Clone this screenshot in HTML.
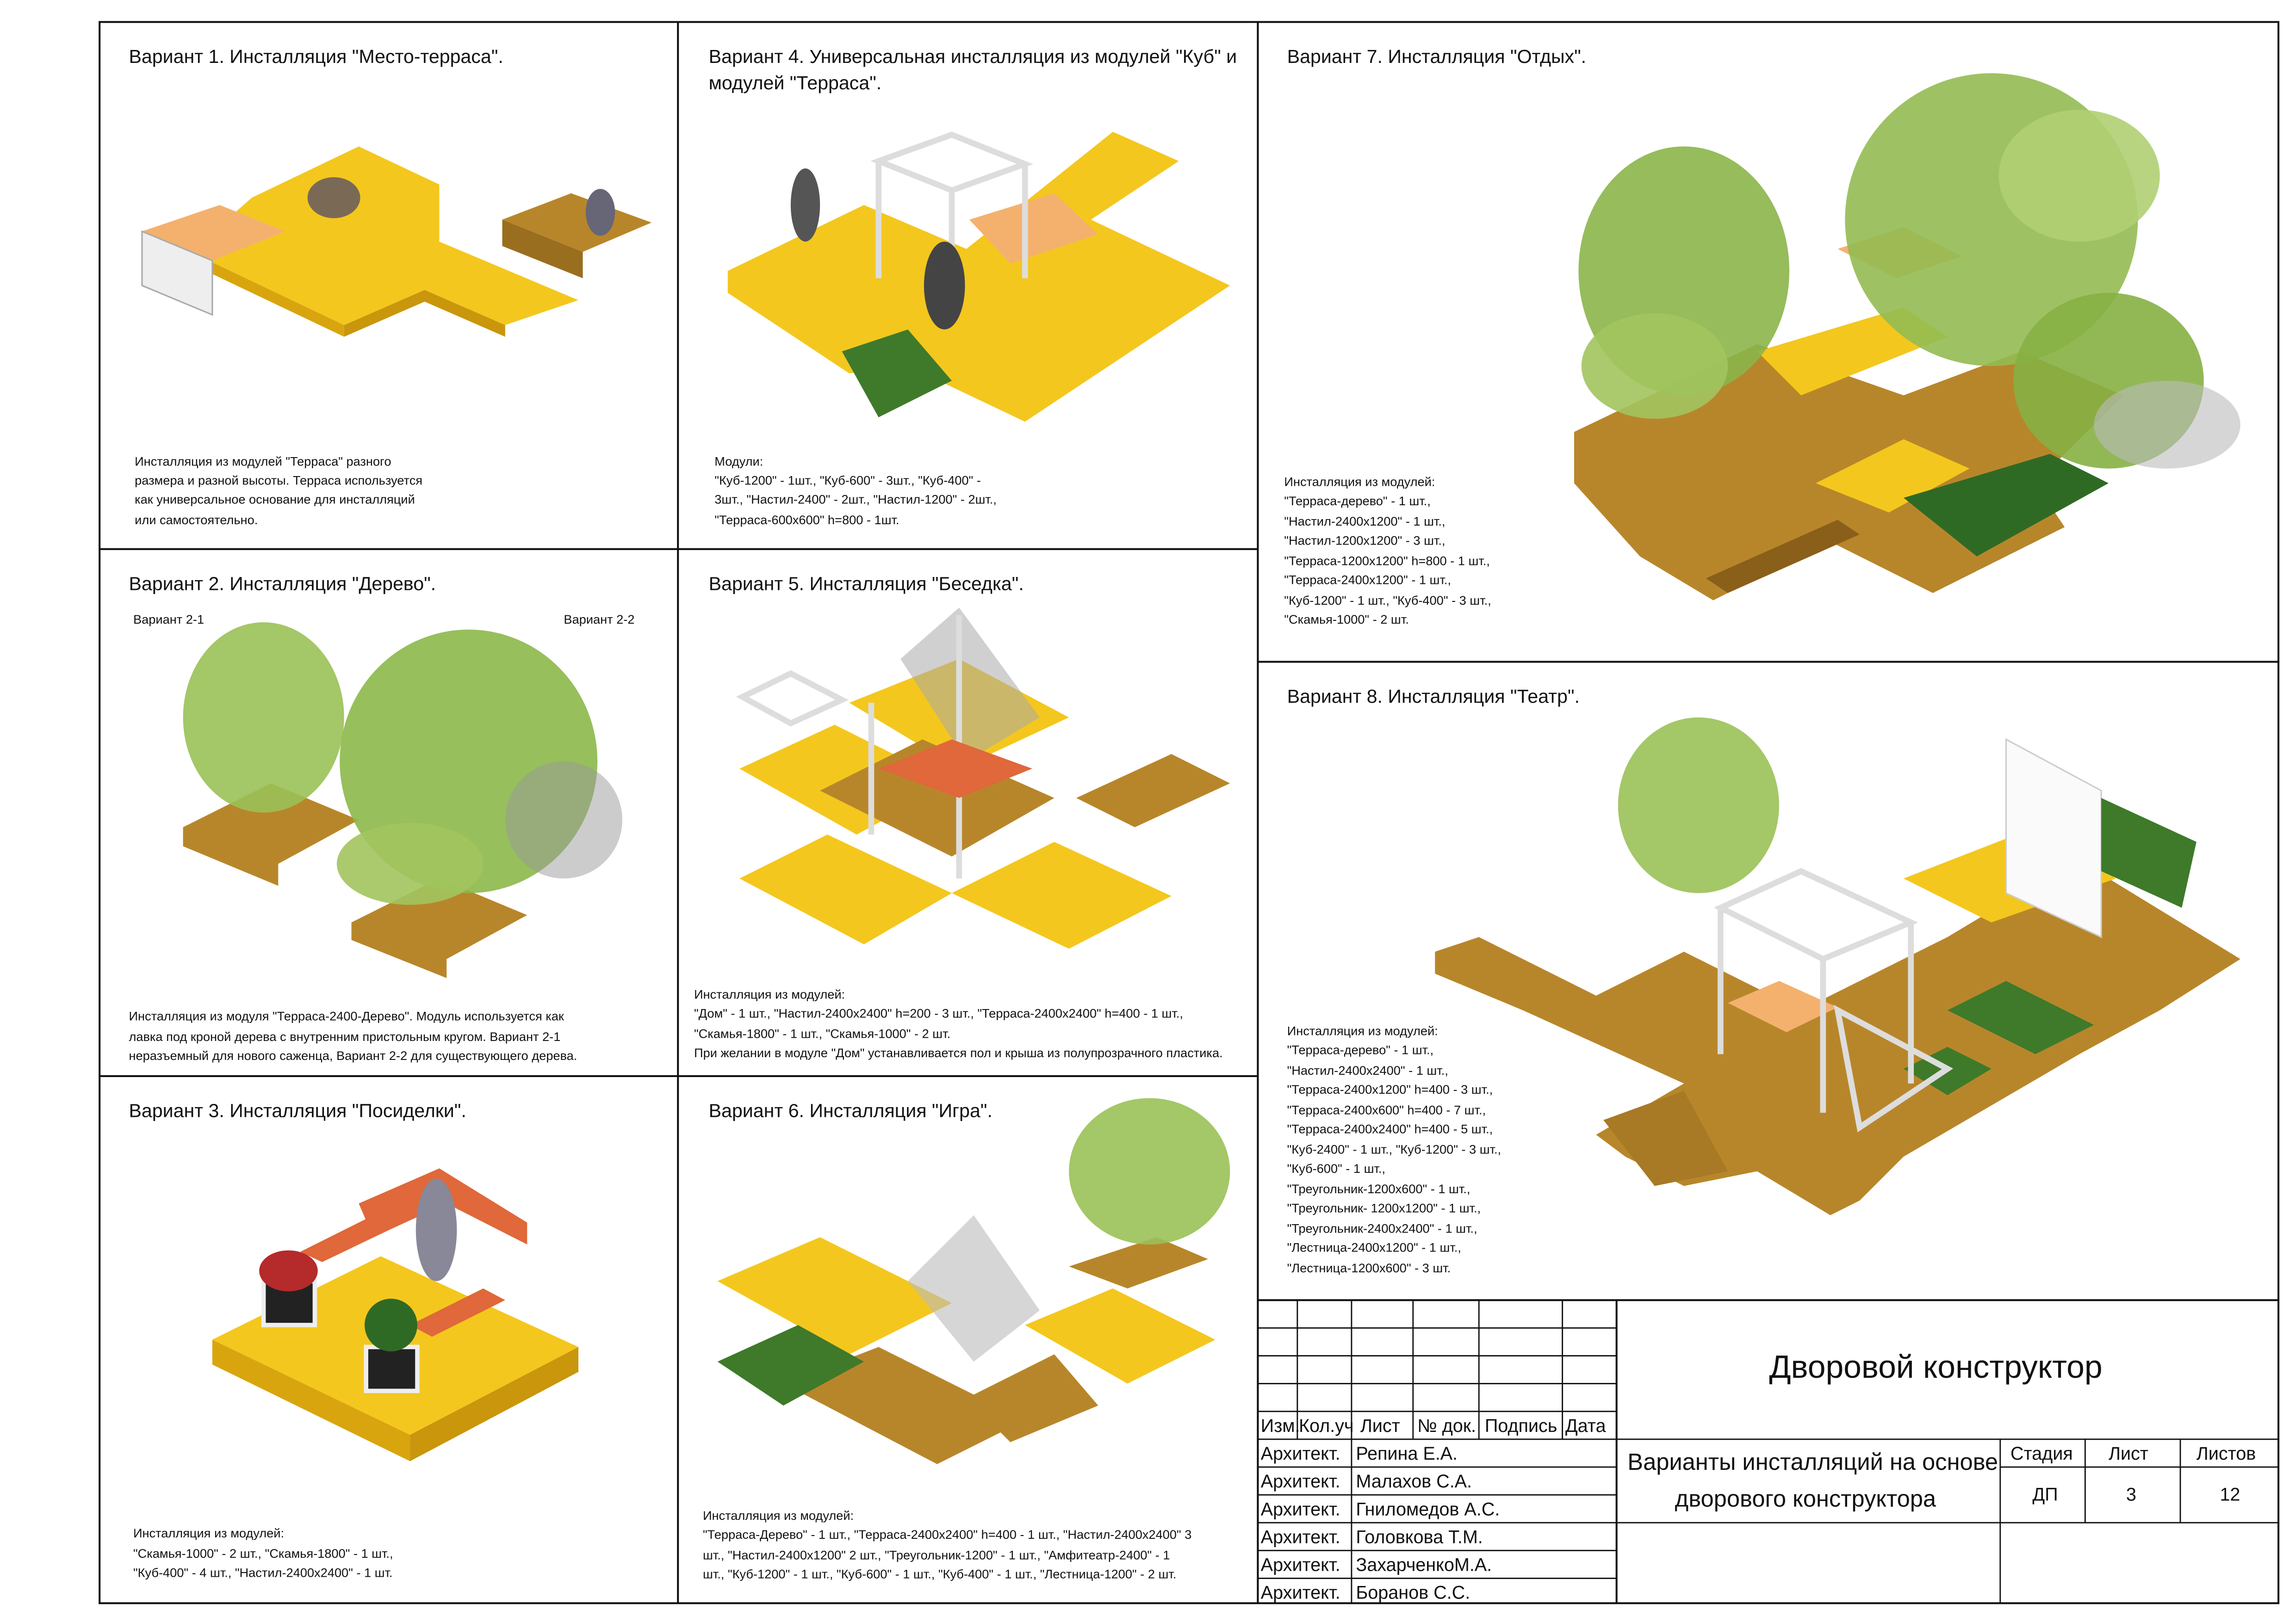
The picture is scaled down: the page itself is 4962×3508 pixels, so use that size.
<!DOCTYPE html>
<html><head><meta charset="utf-8"><style>
html,body{margin:0;padding:0;background:#fff}
svg{display:block}
text{font-family:"Liberation Sans Narrow","Liberation Sans",sans-serif;fill:#111}
.t{font-size:13px}
.s{font-size:8.6px}
.b{font-size:12.5px}
</style></head><body>
<svg width="4962" height="3508" viewBox="0 0 1568 1108.5" xmlns="http://www.w3.org/2000/svg">
<rect width="1568" height="1109" fill="#fff"/>
<g fill="none" stroke="#111" stroke-width="1.3">
<rect x="68" y="15" width="1488" height="1080"/>
<line x1="463" y1="15" x2="463" y2="1095"/>
<line x1="859" y1="15" x2="859" y2="1095"/>
<line x1="68" y1="375" x2="859" y2="375"/>
<line x1="68" y1="735" x2="859" y2="735"/>
<line x1="859" y1="452" x2="1556" y2="452"/>
<line x1="859" y1="888" x2="1556" y2="888"/>
<line x1="1104" y1="888" x2="1104" y2="1095"/>
</g>
<g stroke="#111" stroke-width="0.9" fill="none">
<line x1="886" y1="888" x2="886" y2="983"/><line x1="923" y1="888" x2="923" y2="1095"/>
<line x1="965" y1="888" x2="965" y2="983"/><line x1="1010" y1="888" x2="1010" y2="983"/>
<line x1="1067" y1="888" x2="1067" y2="983"/>
<line x1="859" y1="907" x2="1104" y2="907"/><line x1="859" y1="926" x2="1104" y2="926"/>
<line x1="859" y1="945" x2="1104" y2="945"/><line x1="859" y1="964" x2="1104" y2="964"/>
<line x1="859" y1="983" x2="1556" y2="983"/><line x1="859" y1="1002" x2="1104" y2="1002"/>
<line x1="859" y1="1021" x2="1104" y2="1021"/><line x1="859" y1="1040" x2="1556" y2="1040"/>
<line x1="859" y1="1059" x2="1104" y2="1059"/><line x1="859" y1="1078" x2="1104" y2="1078"/>
<line x1="1366" y1="983" x2="1366" y2="1095"/><line x1="1424" y1="983" x2="1424" y2="1040"/>
<line x1="1489" y1="983" x2="1489" y2="1040"/><line x1="1366" y1="1002" x2="1556" y2="1002"/>
</g>
<g class="b">
<text x="861" y="978">Изм.</text><text x="887" y="978">Кол.уч</text><text x="929" y="978">Лист</text><text x="968" y="978">№ док.</text><text x="1014" y="978">Подпись</text><text x="1069" y="978">Дата</text>
<text x="861" y="997">Архитект.</text><text x="926" y="997">Репина Е.А.</text>
<text x="861" y="1016">Архитект.</text><text x="926" y="1016">Малахов С.А.</text>
<text x="861" y="1035">Архитект.</text><text x="926" y="1035">Гниломедов А.С.</text>
<text x="861" y="1054">Архитект.</text><text x="926" y="1054">Головкова Т.М.</text>
<text x="861" y="1073">Архитект.</text><text x="926" y="1073">ЗахарченкоМ.А.</text>
<text x="861" y="1092">Архитект.</text><text x="926" y="1092">Боранов С.С.</text>
<text x="1373" y="997">Стадия</text><text x="1440" y="997">Лист</text><text x="1500" y="997">Листов</text>
<text x="1388" y="1025">ДП</text><text x="1452" y="1025">3</text><text x="1516" y="1025">12</text>
</g>
<text x="1322" y="941" text-anchor="middle" style="font-size:22px">Дворовой конструктор</text>
<text x="1238" y="1004" text-anchor="middle" style="font-size:16px">Варианты инсталляций на основе</text>
<text x="1233" y="1029" text-anchor="middle" style="font-size:16px">дворового конструктора</text>

<g class="t">
<text x="88" y="43">Вариант 1. Инсталляция "Место-терраса".</text>
<text x="484" y="43">Вариант 4. Универсальная инсталляция из модулей "Куб" и</text>
<text x="484" y="61">модулей "Терраса".</text>
<text x="879" y="43">Вариант 7. Инсталляция "Отдых".</text>
<text x="88" y="403">Вариант 2. Инсталляция "Дерево".</text>
<text x="484" y="403">Вариант 5. Инсталляция "Беседка".</text>
<text x="879" y="480">Вариант 8. Инсталляция "Театр".</text>
<text x="88" y="763">Вариант 3. Инсталляция "Посиделки".</text>
<text x="484" y="763">Вариант 6. Инсталляция "Игра".</text>
</g>
<g class="s">
<text x="92" y="318">Инсталляция из модулей "Терраса" разного</text>
<text x="92" y="331">размера и разной высоты. Терраса используется</text>
<text x="92" y="344">как универсальное основание для инсталляций</text>
<text x="92" y="358">или самостоятельно.</text>
<text x="488" y="318">Модули:</text>
<text x="488" y="331">"Куб-1200" - 1шт., "Куб-600" - 3шт., "Куб-400" -</text>
<text x="488" y="344">3шт., "Настил-2400" - 2шт., "Настил-1200" - 2шт.,</text>
<text x="488" y="358">"Терраса-600х600" h=800 - 1шт.</text>
<text x="877" y="332">Инсталляция из модулей:</text>
<text x="877" y="345">"Терраса-дерево" - 1 шт.,</text>
<text x="877" y="359">"Настил-2400х1200" - 1 шт.,</text>
<text x="877" y="372">"Настил-1200х1200" - 3 шт.,</text>
<text x="877" y="386">"Терраса-1200х1200" h=800 - 1 шт.,</text>
<text x="877" y="399">"Терраса-2400х1200" - 1 шт.,</text>
<text x="877" y="413">"Куб-1200" - 1 шт., "Куб-400" - 3 шт.,</text>
<text x="877" y="426">"Скамья-1000" - 2 шт.</text>
<text x="91" y="426">Вариант 2-1</text><text x="385" y="426">Вариант 2-2</text>
<text x="88" y="697">Инсталляция из модуля "Терраса-2400-Дерево". Модуль используется как</text>
<text x="88" y="711">лавка под кроной дерева с внутренним пристольным кругом. Вариант 2-1</text>
<text x="88" y="724">неразъемный для нового саженца, Вариант 2-2 для существующего дерева.</text>
<text x="474" y="682">Инсталляция из модулей:</text>
<text x="474" y="695">"Дом" - 1 шт., "Настил-2400х2400" h=200 - 3 шт., "Терраса-2400х2400" h=400 - 1 шт.,</text>
<text x="474" y="709">"Скамья-1800" - 1 шт., "Скамья-1000" - 2 шт.</text>
<text x="474" y="722">При желании в модуле "Дом" устанавливается пол и крыша из полупрозрачного пластика.</text>
<text x="879" y="707">Инсталляция из модулей:</text>
<text x="879" y="720">"Терраса-дерево" - 1 шт.,</text>
<text x="879" y="734">"Настил-2400х2400" - 1 шт.,</text>
<text x="879" y="747">"Терраса-2400х1200" h=400 - 3 шт.,</text>
<text x="879" y="761">"Терраса-2400х600" h=400 - 7 шт.,</text>
<text x="879" y="774">"Терраса-2400х2400" h=400 - 5 шт.,</text>
<text x="879" y="788">"Куб-2400" - 1 шт., "Куб-1200" - 3 шт.,</text>
<text x="879" y="801">"Куб-600" - 1 шт.,</text>
<text x="879" y="815">"Треугольник-1200х600" - 1 шт.,</text>
<text x="879" y="828">"Треугольник- 1200х1200" - 1 шт.,</text>
<text x="879" y="842">"Треугольник-2400х2400" - 1 шт.,</text>
<text x="879" y="855">"Лестница-2400х1200" - 1 шт.,</text>
<text x="879" y="869">"Лестница-1200х600" - 3 шт.</text>
<text x="91" y="1050">Инсталляция из модулей:</text>
<text x="91" y="1064">"Скамья-1000" - 2 шт., "Скамья-1800" - 1 шт.,</text>
<text x="91" y="1077">"Куб-400" - 4 шт., "Настил-2400х2400" - 1 шт.</text>
<text x="480" y="1038">Инсталляция из модулей:</text>
<text x="480" y="1051">"Терраса-Дерево" - 1 шт., "Терраса-2400х2400" h=400 - 1 шт., "Настил-2400х2400" 3</text>
<text x="480" y="1065">шт., "Настил-2400х1200" 2 шт., "Треугольник-1200" - 1 шт., "Амфитеатр-2400" - 1</text>
<text x="480" y="1078">шт., "Куб-1200" - 1 шт., "Куб-600" - 1 шт., "Куб-400" - 1 шт., "Лестница-1200" - 2 шт.</text>
</g>

<!-- Panel 1 -->
<polygon points="172,135 245,100 300,126 300,165 395,205 345,222 290,198 235,222 130,172" fill="#F4C71E"/>
<polygon points="130,172 235,222 235,230 130,180" fill="#d9a50f"/>
<polygon points="235,222 290,198 345,222 345,230 290,206 235,230" fill="#c9960c"/>
<polygon points="97,158 150,140 195,158 145,178" fill="#F4B16E"/>
<polygon points="97,158 145,178 145,215 97,195" fill="#eee" stroke="#aaa" stroke-width="1"/>
<polygon points="343,150 390,132 445,152 398,172" fill="#B8862A"/>
<polygon points="343,150 398,172 398,190 343,168" fill="#9a6e1f"/>
<ellipse cx="228" cy="135" rx="18" ry="14" fill="#7a6a55"/>
<ellipse cx="410" cy="145" rx="10" ry="16" fill="#667"/>

<!-- Panel 4 -->
<polygon points="497,185 590,140 660,170 760,90 805,110 745,150 840,195 700,288 620,250 580,255 497,200" fill="#F4C71E"/>
<polygon points="575,240 620,225 650,260 600,285" fill="#3e7a2a"/>
<polygon points="662,150 720,132 750,160 690,180" fill="#F4B16E"/>
<g stroke="#ddd" stroke-width="4" fill="none"><polygon points="600,110 650,92 700,112 650,130"/><line x1="600" y1="110" x2="600" y2="190"/><line x1="650" y1="130" x2="650" y2="215"/><line x1="700" y1="112" x2="700" y2="190"/></g>
<ellipse cx="550" cy="140" rx="10" ry="25" fill="#555"/>
<ellipse cx="645" cy="195" rx="14" ry="30" fill="#444"/>

<!-- Panel 7 -->
<polygon points="1075,295 1200,235 1300,270 1380,240 1450,270 1390,330 1410,360 1320,405 1250,370 1170,410 1120,380 1075,330" fill="#B8862A"/>
<polygon points="1200,240 1300,210 1330,230 1230,270" fill="#F4C71E"/>
<polygon points="1240,330 1300,300 1345,320 1290,350" fill="#F4C71E"/>
<polygon points="1300,340 1400,310 1440,330 1350,380" fill="#2f6a25"/>
<polygon points="1165,395 1255,355 1270,365 1180,405" fill="#8a5f1a"/>
<polygon points="1255,170 1300,155 1340,175 1295,190" fill="#F4B16E"/>
<ellipse cx="1150" cy="185" rx="72" ry="85" fill="#8bb54a" opacity="0.9"/>
<ellipse cx="1130" cy="250" rx="50" ry="36" fill="#a2c45e" opacity="0.9"/>
<ellipse cx="1360" cy="150" rx="100" ry="100" fill="#93bb52" opacity="0.9"/>
<ellipse cx="1440" cy="260" rx="65" ry="60" fill="#86b044" opacity="0.9"/>
<ellipse cx="1420" cy="120" rx="55" ry="45" fill="#b0cf72" opacity="0.9"/>
<ellipse cx="1480" cy="290" rx="50" ry="30" fill="#bbb" opacity="0.6"/>

<!-- Panel 2 -->
<polygon points="125,565 185,535 245,560 190,590 190,605 125,578" fill="#B8862A"/>
<polygon points="240,630 300,600 360,625 305,655 305,668 240,642" fill="#B8862A"/>
<ellipse cx="180" cy="490" rx="55" ry="65" fill="#9ac156" opacity="0.9"/>
<ellipse cx="320" cy="520" rx="88" ry="90" fill="#8cb84a" opacity="0.9"/>
<ellipse cx="280" cy="590" rx="50" ry="28" fill="#a2c45e" opacity="0.9"/>
<ellipse cx="385" cy="560" rx="40" ry="40" fill="#999" opacity="0.5"/>

<!-- Panel 5 -->
<polygon points="505,525 570,495 650,535 585,570" fill="#F4C71E"/>
<polygon points="580,480 655,450 730,490 655,525" fill="#F4C71E"/>
<polygon points="505,600 565,570 650,610 590,645" fill="#F4C71E"/>
<polygon points="650,610 720,575 800,612 730,648" fill="#F4C71E"/>
<polygon points="560,540 630,505 720,545 650,585" fill="#B8862A"/>
<polygon points="735,545 800,515 840,535 775,565" fill="#B8862A"/>
<polygon points="615,450 655,415 710,490 660,520" fill="#aaa" opacity="0.55"/>
<g stroke="#ddd" stroke-width="4" fill="none"><polygon points="507,476 540,460 575,478 540,494"/><line x1="655" y1="420" x2="655" y2="600"/><line x1="595" y1="480" x2="595" y2="570"/></g>
<polygon points="600,525 650,505 705,525 655,545" fill="#E0683A"/>

<!-- Panel 3 -->
<polygon points="145,915 260,858 395,920 280,980" fill="#F4C71E"/>
<polygon points="145,915 280,980 280,998 145,932" fill="#d9a50f"/>
<polygon points="280,980 395,920 395,937 280,998" fill="#c9960c"/>
<polygon points="205,855 255,830 270,838 220,862" fill="#E0683A"/>
<polygon points="245,822 300,798 360,835 360,850 305,822 255,845" fill="#E0683A"/>
<polygon points="280,905 330,880 345,888 295,913" fill="#E0683A"/>
<rect x="180" y="875" width="35" height="30" fill="#222" stroke="#eee" stroke-width="3"/>
<ellipse cx="197" cy="868" rx="20" ry="14" fill="#b52a2a"/>
<rect x="250" y="920" width="35" height="30" fill="#222" stroke="#eee" stroke-width="3"/>
<ellipse cx="267" cy="905" rx="18" ry="18" fill="#2f6a25"/>
<ellipse cx="298" cy="840" rx="14" ry="35" fill="#889"/>

<!-- Panel 6 -->
<polygon points="490,875 560,845 650,890 580,925" fill="#F4C71E"/>
<polygon points="535,945 600,920 700,970 640,1000" fill="#B8862A"/>
<polygon points="700,905 760,880 830,915 770,945" fill="#F4C71E"/>
<polygon points="730,865 790,845 825,860 770,880" fill="#B8862A"/>
<polygon points="490,930 545,905 590,930 535,960" fill="#3e7a2a"/>
<ellipse cx="785" cy="800" rx="55" ry="50" fill="#9ac156" opacity="0.9"/>
<polygon points="620,875 665,830 710,895 665,930" fill="#bbb" opacity="0.6"/>
<polygon points="660,955 720,925 750,960 690,985" fill="#B8862A"/>

<!-- Panel 8 -->
<polygon points="980,650 1010,640 1090,680 1150,650 1230,690 1330,640 1380,610 1440,600 1530,655 1475,690 1420,720 1300,790 1270,820 1250,830 1200,800 1150,810 1110,790 1090,775 1150,740 1040,690 980,665" fill="#B8862A"/>
<polygon points="1300,600 1390,565 1445,600 1360,630" fill="#F4C71E"/>
<polygon points="1370,505 1435,540 1435,640 1370,610" fill="#fafafa" stroke="#ccc"/>
<polygon points="1435,545 1500,575 1490,620 1435,595" fill="#3e7a2a"/>
<polygon points="1330,690 1370,670 1430,700 1390,720" fill="#3e7a2a"/>
<polygon points="1300,730 1330,715 1360,730 1330,748" fill="#3e7a2a"/>
<ellipse cx="1160" cy="550" rx="55" ry="60" fill="#9ac156" opacity="0.9"/>
<polygon points="1180,685 1215,670 1255,688 1220,705" fill="#F4B16E"/>
<g stroke="#ddd" stroke-width="4" fill="none"><polygon points="1175,620 1230,595 1305,630 1245,655"/><line x1="1175" y1="620" x2="1175" y2="720"/><line x1="1245" y1="655" x2="1245" y2="760"/><line x1="1305" y1="630" x2="1305" y2="740"/><polygon points="1255,690 1330,730 1270,770"/></g>
<polygon points="1095,765 1150,745 1180,800 1130,810" fill="#a87a25"/>
</svg>
</body></html>
